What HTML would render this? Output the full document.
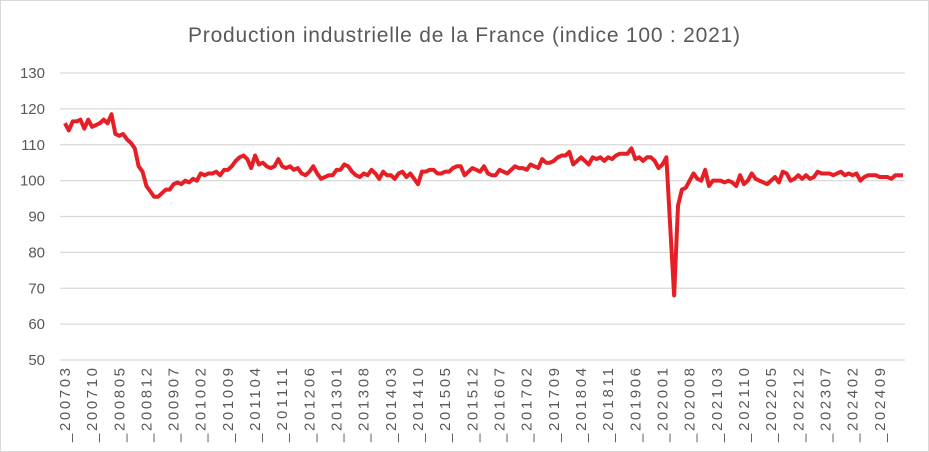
<!DOCTYPE html>
<html><head><meta charset="utf-8"><style>
html,body{margin:0;padding:0;background:#fff}
svg{display:block;font-family:"Liberation Sans",Arial,sans-serif}
</style></head><body>
<svg id="chart" width="929" height="452" viewBox="0 0 929 452" xmlns="http://www.w3.org/2000/svg">
<rect x="0.5" y="0.5" width="928" height="451" fill="#fff" stroke="#d9d9d9"/>
<text x="464" y="42" text-anchor="middle" font-size="21" fill="#595959" textLength="552" lengthAdjust="spacing">Production industrielle de la France (indice 100 : 2021)</text>
<g id="grid"></g><g id="ylabels"></g><g id="xlabels"></g><g id="series"></g>
</svg>
<script>
const values=[116,114,116.5,116.5,117,114.5,117,115,115.5,116,117,116,118.5,113,112.5,113,111.5,110.5,109,104,102.5,98.5,97,95.5,95.5,96.5,97.5,97.5,99,99.5,99,100,99.5,100.5,100,102,101.5,102,102,102.5,101.5,103,103,104,105.5,106.5,107,106,103.5,107,104.5,105,104,103.5,104,106,104,103.5,104,103,103.5,102,101.5,102.5,104,102,100.5,101,101.5,101.5,103,103,104.5,104,102.5,101.5,101,102,101.5,103,102,100.5,102.5,101.5,101.5,100.5,102,102.5,101,102,100.5,99,102.5,102.5,103,103,102,102,102.5,102.5,103.5,104,104,101.5,102.5,103.5,103,102.5,104,102,101.5,101.5,103,102.5,102,103,104,103.5,103.5,103,104.5,104,103.5,106,105,105,105.5,106.5,107,107,108,104.5,105.5,106.5,105.5,104.5,106.5,106,106.5,105.5,106.5,106,107,107.5,107.5,107.5,109,106,106.5,105.5,106.5,106.5,105.5,103.5,104.5,106.5,87,68,93,97.5,98,100,102,100.5,100,103,98.5,100,100,100,99.5,100,99.5,98.5,101.5,99,100,102,100.5,100,99.5,99,100,101,99.5,102.5,102,100,100.5,101.5,100.5,101.5,100.5,101,102.5,102,102,102,101.5,102,102.5,101.5,102,101.5,102,100,101,101.5,101.5,101.5,101,101,101,100.5,101.5,101.5,101.5];
const yTicks=[50,60,70,80,90,100,110,120,130];
const tickLabels=["_200703","_200710","_200805","_200812","_200907","_201002","_201009","_201104","_201111","_201206","_201301","_201308","_201403","_201410","_201505","_201512","_201607","_201702","_201709","_201804","_201811","_201906","_202001","_202008","_202103","_202110","_202205","_202212","_202307","_202402","_202409"];
const tickEvery=7;
const NS="http://www.w3.org/2000/svg";
const L=63,R=905,T=73,B=360,yMin=50,yMax=130;
const step=(R-L)/values.length;
const xs=i=>L+step*(i+0.5);
const ys=v=>B-(v-yMin)/(yMax-yMin)*(B-T);
const grid=document.getElementById('grid'),yl=document.getElementById('ylabels'),xl=document.getElementById('xlabels'),se=document.getElementById('series');
yTicks.forEach(t=>{
 const ln=document.createElementNS(NS,'line');
 
 
 ln.setAttribute('x1',60);ln.setAttribute('x2',R);ln.setAttribute('y1',ys(t));ln.setAttribute('y2',ys(t));
 ln.setAttribute('stroke','#d9d9d9');ln.setAttribute('stroke-width','1.3');
 grid.appendChild(ln);
 const tx=document.createElementNS(NS,'text');
 
 
 tx.setAttribute('x',45);tx.setAttribute('y',ys(t)+5);tx.setAttribute('text-anchor','end');
 tx.setAttribute('font-size','15');tx.setAttribute('fill','#595959');
 tx.textContent=t;yl.appendChild(tx);
});
tickLabels.forEach((lab,k)=>{
 const x=xs(k*tickEvery)+5;
 const tx=document.createElementNS(NS,'text');
 
 
 tx.setAttribute('transform','translate('+x+',368) rotate(-90)');
 tx.setAttribute('text-anchor','end');tx.setAttribute('font-size','15');tx.setAttribute('fill','#595959');
 tx.setAttribute('textLength','74');tx.setAttribute('lengthAdjust','spacing');
 tx.textContent=lab;xl.appendChild(tx);
});
const pl=document.createElementNS(NS,'polyline');


pl.setAttribute('points',values.map((v,i)=>xs(i).toFixed(2)+','+ys(v).toFixed(2)).join(' '));
pl.setAttribute('fill','none');pl.setAttribute('stroke','#e61e25');pl.setAttribute('stroke-width','4');pl.setAttribute('stroke-linejoin','round');
se.appendChild(pl);
</script>
</body></html>
